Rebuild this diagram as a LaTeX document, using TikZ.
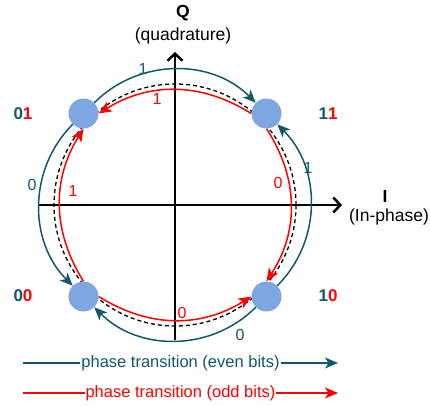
\documentclass[tikz,border=0pt]{standalone}
\usepackage{fontspec}
\setmainfont{Liberation Sans}
\usetikzlibrary{arrows.meta}
\definecolor{evenc}{RGB}{16,88,106}
\definecolor{oddc}{RGB}{255,0,0}
\definecolor{dotc}{HTML}{7EA6E0}
\newcommand{\bitpair}[2]{\textbf{\textcolor{evenc}{#1}\textcolor{oddc}{#2}}}

\begin{document}
\begin{tikzpicture}[x=1pt,y=1pt,every node/.style={font=\fontsize{16}{19}\selectfont},
  dot/.style={circle,fill=dotc,minimum size=30pt,inner sep=0pt},
  axis/.style={line width=2.5pt,-{Straight Barb[length=7pt,width=15pt]}},
  evenarc/.style={evenc,line width=1.5pt,-{Stealth[length=13pt,width=11pt,inset=3.5pt]}},
  oddarc/.style={oddc,line width=1.5pt,-{Stealth[length=13pt,width=11pt,inset=3.5pt]}},
  evenlab/.style={text=evenc}, oddlab/.style={text=oddc},
  axlab/.style={font=\fontsize{17.5}{20}\selectfont}]
 \useasboundingbox (-175,-200) rectangle (255,205);
 % reference circle and axes
 \draw[line width=1.3pt,dash pattern=on 4pt off 3pt] (0,0) circle (121);
 \coordinate (iL) at (-137,0); \coordinate (iR) at (167,0);
 \coordinate (qB) at (0,-135); \coordinate (qT) at (0,153);
 \draw[axis] (iL) -- (iR);
 \draw[axis] (qB) -- (qT);
 \node[axlab,font=\fontsize{17.5}{20}\selectfont\bfseries] (qname) at (8,192) {Q};
 \node[axlab] (qtext) at (8,169) {(quadrature)};
 \node[axlab,font=\fontsize{17.5}{20}\selectfont\bfseries] (iname) at (210,9) {I};
 \node[axlab] (itext) at (214,-12) {(In-phase)};
 % constellation points
 \node[dot] (d01) at (-91.5,91.5) {};
 \node[dot] (d11) at (91.5,91.5) {};
 \node[dot] (d00) at (-91.5,-91.5) {};
 \node[dot] (d10) at (91.5,-91.5) {};
 \node (b01) at (-152,91) {\fontsize{17}{20}\selectfont\bitpair{0}{1}};
 \node (b11) at (153,91) {\fontsize{17}{20}\selectfont\bitpair{1}{1}};
 \node (b00) at (-152,-91) {\fontsize{17}{20}\selectfont\bitpair{0}{0}};
 \node (b10) at (153,-91) {\fontsize{17}{20}\selectfont\bitpair{1}{0}};
 % even bit transitions
 \draw[evenarc] (d01) to[bend left=45] (d11);
 \draw[evenarc] (d10) to[bend right=45] (d11);
 \draw[evenarc] (d01) to[bend right=45] (d00);
 \draw[evenarc] (d10) to[bend left=45] (d00);
 % odd bit transitions
 \draw[oddarc] (d11.west) to[bend right=32] (d01.east);
 \draw[oddarc] (d00.north) to[bend left=32] (d01.south);
 \draw[oddarc] (d11.south) to[bend left=33] (d10.north);
 \draw[oddarc] (d00.east) to[bend right=32] (d10.west);
 \node[evenlab] (etop) at (-32,136) {1};
 \node[oddlab] (otop) at (-18,106) {1};
 \node[evenlab] (eright) at (133,37) {1};
 \node[oddlab] (oright) at (103,22) {0};
 \node[evenlab] (eleft) at (-143,20) {0};
 \node[oddlab] (oleft) at (-102,14) {1};
 \node[oddlab] (obot) at (7,-108) {0};
 \node[evenlab] (ebot) at (65,-130) {0};
 % legend
 \coordinate (evenL) at (-152,-158); \coordinate (evenR) at (163,-158);
 \coordinate (oddL) at (-152,-188); \coordinate (oddR) at (163,-188);
 \draw[evenarc,line width=1.2pt] (evenL) -- (evenR)
   node[midway,fill=white,inner xsep=1pt,text=evenc,font=\fontsize{16.5}{19}\selectfont] (evenkey) {phase transition (even bits)};
 \draw[oddarc,line width=1.2pt] (oddL) -- (oddR)
   node[midway,fill=white,inner xsep=1pt,text=oddc,font=\fontsize{16.5}{19}\selectfont] (oddkey) {phase transition (odd bits)};
\end{tikzpicture}
\end{document}
